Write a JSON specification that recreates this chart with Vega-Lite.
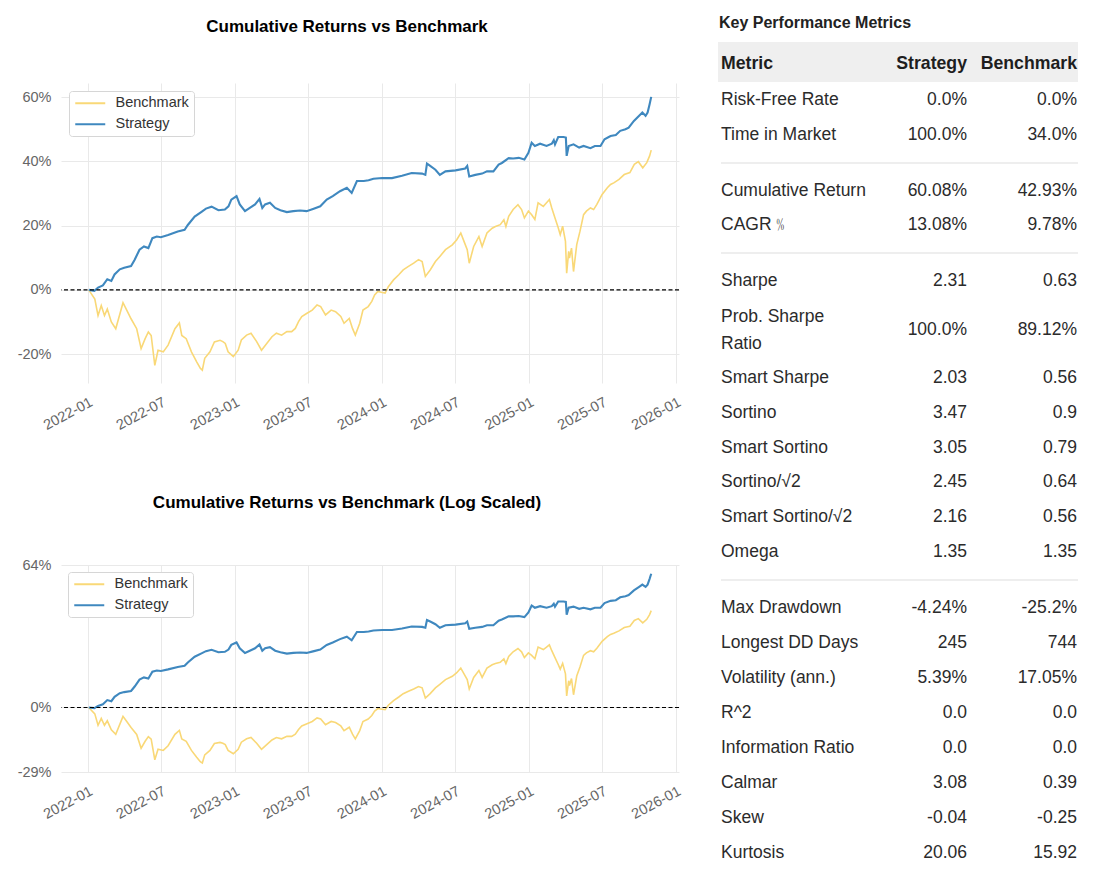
{
  "$schema": "https://vega.github.io/schema/vega-lite/v6.json",
  "padding": {"left": 17, "top": 15, "right": 0, "bottom": 0},
  "background": "#ffffff",
  "config": {
    "view": {"stroke": null},
    "font": "Liberation Sans",
    "axis": {"labelFont": "Liberation Sans", "labelFontSize": 14.5, "labelColor": "#666666", "gridColor": "#e9e9e9", "gridWidth": 1, "ticks": false, "domain": false, "title": null},
    "legend": {"labelFont": "Liberation Sans"}
  },
  "datasets": {
    "strategy": [
      {"date": "2022-01-03", "value": 0}, {"date": "2022-01-17", "value": -0.3}, {"date": "2022-01-26", "value": 0.7}, {"date": "2022-02-07", "value": 1.4},
      {"date": "2022-02-18", "value": 3.3}, {"date": "2022-02-28", "value": 2.8}, {"date": "2022-03-08", "value": 4.8}, {"date": "2022-03-21", "value": 6.4},
      {"date": "2022-04-01", "value": 6.9}, {"date": "2022-04-18", "value": 7.4}, {"date": "2022-04-27", "value": 9.4}, {"date": "2022-05-09", "value": 12.5},
      {"date": "2022-05-20", "value": 13.5}, {"date": "2022-05-31", "value": 13.0}, {"date": "2022-06-10", "value": 16.1}, {"date": "2022-06-21", "value": 16.6},
      {"date": "2022-07-01", "value": 16.4}, {"date": "2022-07-19", "value": 17.1}, {"date": "2022-08-12", "value": 18.2}, {"date": "2022-08-29", "value": 18.7},
      {"date": "2022-09-06", "value": 20.2}, {"date": "2022-09-23", "value": 22.8}, {"date": "2022-10-10", "value": 24.3}, {"date": "2022-10-21", "value": 25.3},
      {"date": "2022-11-04", "value": 25.9}, {"date": "2022-11-21", "value": 24.8}, {"date": "2022-12-07", "value": 25.0}, {"date": "2022-12-16", "value": 26.0},
      {"date": "2022-12-23", "value": 28.1}, {"date": "2023-01-05", "value": 29.2}, {"date": "2023-01-13", "value": 26.6}, {"date": "2023-01-26", "value": 24.5},
      {"date": "2023-02-07", "value": 25.5}, {"date": "2023-02-20", "value": 26.6}, {"date": "2023-03-03", "value": 28.3}, {"date": "2023-03-10", "value": 25.5},
      {"date": "2023-03-17", "value": 26.6}, {"date": "2023-03-29", "value": 27.1}, {"date": "2023-04-11", "value": 25.5}, {"date": "2023-04-24", "value": 24.8},
      {"date": "2023-05-10", "value": 24.2}, {"date": "2023-05-26", "value": 24.5}, {"date": "2023-06-12", "value": 24.7}, {"date": "2023-06-28", "value": 24.5},
      {"date": "2023-07-14", "value": 25.2}, {"date": "2023-08-01", "value": 26.0}, {"date": "2023-08-17", "value": 28.1}, {"date": "2023-09-01", "value": 29.2},
      {"date": "2023-09-19", "value": 30.7}, {"date": "2023-10-06", "value": 31.8}, {"date": "2023-10-18", "value": 30.2}, {"date": "2023-10-31", "value": 33.9},
      {"date": "2023-11-17", "value": 33.9}, {"date": "2023-11-29", "value": 34.1}, {"date": "2023-12-11", "value": 34.6}, {"date": "2024-01-02", "value": 34.8},
      {"date": "2024-01-26", "value": 34.8}, {"date": "2024-02-20", "value": 35.5}, {"date": "2024-03-15", "value": 36.4}, {"date": "2024-04-10", "value": 36.2},
      {"date": "2024-04-18", "value": 35.8}, {"date": "2024-04-22", "value": 39.3}, {"date": "2024-04-30", "value": 38.6}, {"date": "2024-05-13", "value": 37.4},
      {"date": "2024-05-24", "value": 35.8}, {"date": "2024-06-07", "value": 36.9}, {"date": "2024-07-02", "value": 37.2}, {"date": "2024-07-26", "value": 37.8},
      {"date": "2024-07-31", "value": 38.6}, {"date": "2024-08-05", "value": 35.3}, {"date": "2024-08-20", "value": 35.8}, {"date": "2024-09-06", "value": 36.2},
      {"date": "2024-09-18", "value": 36.9}, {"date": "2024-10-04", "value": 36.9}, {"date": "2024-10-17", "value": 39.0}, {"date": "2024-10-25", "value": 39.5},
      {"date": "2024-11-11", "value": 41.0}, {"date": "2024-11-22", "value": 40.9}, {"date": "2024-12-06", "value": 41.1}, {"date": "2024-12-20", "value": 40.6},
      {"date": "2024-12-30", "value": 42.7}, {"date": "2025-01-07", "value": 45.8}, {"date": "2025-01-15", "value": 44.8}, {"date": "2025-01-28", "value": 45.5},
      {"date": "2025-02-13", "value": 44.8}, {"date": "2025-02-26", "value": 45.5}, {"date": "2025-03-03", "value": 46.6}, {"date": "2025-03-06", "value": 45.3},
      {"date": "2025-03-14", "value": 47.6}, {"date": "2025-03-27", "value": 47.6}, {"date": "2025-04-02", "value": 47.4}, {"date": "2025-04-04", "value": 41.7},
      {"date": "2025-04-09", "value": 44.8}, {"date": "2025-04-21", "value": 45.3}, {"date": "2025-05-05", "value": 44.3}, {"date": "2025-05-16", "value": 44.8},
      {"date": "2025-06-02", "value": 44.1}, {"date": "2025-06-13", "value": 44.8}, {"date": "2025-06-27", "value": 44.8}, {"date": "2025-07-07", "value": 46.9},
      {"date": "2025-07-22", "value": 47.9}, {"date": "2025-08-04", "value": 48.2}, {"date": "2025-08-15", "value": 49.5}, {"date": "2025-08-28", "value": 50.0},
      {"date": "2025-09-05", "value": 50.5}, {"date": "2025-09-18", "value": 52.6}, {"date": "2025-10-01", "value": 54.2}, {"date": "2025-10-09", "value": 55.2},
      {"date": "2025-10-17", "value": 54.2}, {"date": "2025-10-22", "value": 55.2}, {"date": "2025-10-27", "value": 57.8}, {"date": "2025-10-31", "value": 60.08}
    ],
    "benchmark": [
      {"date": "2022-01-03", "value": 0}, {"date": "2022-01-07", "value": -0.8}, {"date": "2022-01-18", "value": -2.9}, {"date": "2022-01-26", "value": -8.0},
      {"date": "2022-02-03", "value": -4.9}, {"date": "2022-02-11", "value": -8.0}, {"date": "2022-02-18", "value": -6.0}, {"date": "2022-02-28", "value": -10.0},
      {"date": "2022-03-11", "value": -12.1}, {"date": "2022-03-29", "value": -4.0}, {"date": "2022-04-06", "value": -6.0}, {"date": "2022-04-18", "value": -9.0},
      {"date": "2022-05-02", "value": -12.1}, {"date": "2022-05-13", "value": -18.3}, {"date": "2022-05-23", "value": -15.2}, {"date": "2022-05-31", "value": -13.1},
      {"date": "2022-06-07", "value": -14.2}, {"date": "2022-06-16", "value": -23.5}, {"date": "2022-06-24", "value": -18.8}, {"date": "2022-07-07", "value": -19.3},
      {"date": "2022-07-19", "value": -17.2}, {"date": "2022-08-05", "value": -12.1}, {"date": "2022-08-16", "value": -10.3}, {"date": "2022-08-22", "value": -14.2},
      {"date": "2022-09-02", "value": -15.2}, {"date": "2022-09-15", "value": -19.3}, {"date": "2022-09-28", "value": -22.4}, {"date": "2022-10-07", "value": -24.4},
      {"date": "2022-10-12", "value": -25.0}, {"date": "2022-10-18", "value": -21.3}, {"date": "2022-10-31", "value": -19.3}, {"date": "2022-11-11", "value": -16.2},
      {"date": "2022-11-25", "value": -15.7}, {"date": "2022-12-02", "value": -16.1}, {"date": "2022-12-08", "value": -16.7}, {"date": "2022-12-15", "value": -19.3},
      {"date": "2022-12-28", "value": -20.8}, {"date": "2023-01-09", "value": -18.8}, {"date": "2023-01-17", "value": -15.6}, {"date": "2023-01-30", "value": -14.1},
      {"date": "2023-02-10", "value": -13.5}, {"date": "2023-02-24", "value": -16.1}, {"date": "2023-03-08", "value": -18.8}, {"date": "2023-03-21", "value": -16.7},
      {"date": "2023-04-03", "value": -14.6}, {"date": "2023-04-14", "value": -13.5}, {"date": "2023-04-27", "value": -14.1}, {"date": "2023-05-10", "value": -13.0},
      {"date": "2023-05-22", "value": -13.0}, {"date": "2023-05-31", "value": -12.0}, {"date": "2023-06-08", "value": -9.9}, {"date": "2023-06-16", "value": -8.3},
      {"date": "2023-06-29", "value": -7.3}, {"date": "2023-07-12", "value": -6.3}, {"date": "2023-07-24", "value": -4.7}, {"date": "2023-08-02", "value": -5.2},
      {"date": "2023-08-14", "value": -7.8}, {"date": "2023-08-28", "value": -6.3}, {"date": "2023-09-08", "value": -6.8}, {"date": "2023-09-21", "value": -8.3},
      {"date": "2023-09-29", "value": -10.4}, {"date": "2023-10-12", "value": -8.9}, {"date": "2023-10-20", "value": -12.0}, {"date": "2023-10-27", "value": -14.1},
      {"date": "2023-11-07", "value": -10.4}, {"date": "2023-11-15", "value": -6.3}, {"date": "2023-11-28", "value": -5.2}, {"date": "2023-12-07", "value": -3.6},
      {"date": "2023-12-14", "value": -1.6}, {"date": "2023-12-22", "value": -0.5}, {"date": "2024-01-02", "value": -0.8}, {"date": "2024-01-09", "value": -1.0},
      {"date": "2024-01-17", "value": 1.0}, {"date": "2024-01-30", "value": 3.1}, {"date": "2024-02-12", "value": 4.7}, {"date": "2024-02-23", "value": 6.2},
      {"date": "2024-03-07", "value": 7.3}, {"date": "2024-03-20", "value": 8.3}, {"date": "2024-04-01", "value": 9.4}, {"date": "2024-04-10", "value": 8.8},
      {"date": "2024-04-18", "value": 4.2}, {"date": "2024-04-30", "value": 6.2}, {"date": "2024-05-13", "value": 8.8}, {"date": "2024-05-24", "value": 10.4},
      {"date": "2024-06-07", "value": 12.5}, {"date": "2024-06-24", "value": 14.0}, {"date": "2024-07-05", "value": 15.6}, {"date": "2024-07-15", "value": 17.7},
      {"date": "2024-07-23", "value": 15.1}, {"date": "2024-07-31", "value": 12.5}, {"date": "2024-08-05", "value": 8.3}, {"date": "2024-08-16", "value": 13.5},
      {"date": "2024-08-29", "value": 16.6}, {"date": "2024-09-06", "value": 13.5}, {"date": "2024-09-18", "value": 17.7}, {"date": "2024-10-01", "value": 19.2},
      {"date": "2024-10-09", "value": 19.7}, {"date": "2024-10-21", "value": 20.3}, {"date": "2024-10-30", "value": 21.8}, {"date": "2024-11-04", "value": 19.7},
      {"date": "2024-11-11", "value": 22.9}, {"date": "2024-11-22", "value": 25.0}, {"date": "2024-12-04", "value": 26.5}, {"date": "2024-12-13", "value": 25.0},
      {"date": "2024-12-20", "value": 22.4}, {"date": "2024-12-30", "value": 24.5}, {"date": "2025-01-07", "value": 23.4}, {"date": "2025-01-15", "value": 21.9},
      {"date": "2025-01-23", "value": 27.1}, {"date": "2025-02-05", "value": 26.0}, {"date": "2025-02-13", "value": 27.1}, {"date": "2025-02-20", "value": 28.1},
      {"date": "2025-02-26", "value": 25.5}, {"date": "2025-03-06", "value": 22.4}, {"date": "2025-03-14", "value": 19.3}, {"date": "2025-03-19", "value": 17.2},
      {"date": "2025-03-25", "value": 19.8}, {"date": "2025-04-01", "value": 15.1}, {"date": "2025-04-04", "value": 5.2}, {"date": "2025-04-09", "value": 12.0},
      {"date": "2025-04-11", "value": 9.9}, {"date": "2025-04-16", "value": 13.0}, {"date": "2025-04-21", "value": 5.7}, {"date": "2025-04-29", "value": 14.1},
      {"date": "2025-05-07", "value": 18.2}, {"date": "2025-05-16", "value": 23.4}, {"date": "2025-05-23", "value": 24.5}, {"date": "2025-06-02", "value": 25.5},
      {"date": "2025-06-10", "value": 25.0}, {"date": "2025-06-18", "value": 26.6}, {"date": "2025-07-01", "value": 29.7}, {"date": "2025-07-14", "value": 31.8},
      {"date": "2025-07-22", "value": 32.8}, {"date": "2025-07-30", "value": 33.3}, {"date": "2025-08-12", "value": 34.4}, {"date": "2025-08-25", "value": 35.9},
      {"date": "2025-09-08", "value": 36.5}, {"date": "2025-09-19", "value": 39.1}, {"date": "2025-09-29", "value": 39.9}, {"date": "2025-10-10", "value": 38.0},
      {"date": "2025-10-20", "value": 39.6}, {"date": "2025-10-27", "value": 41.7}, {"date": "2025-10-31", "value": 43.5}
    ],
    "header": [{"row": 0, "metric": "Metric", "strategy": "Strategy", "benchmark": "Benchmark"}],
    "metrics": [
      {"row": 1, "metric": "Risk-Free Rate", "strategy": "0.0%", "benchmark": "0.0%"},
      {"row": 2, "metric": "Time in Market", "strategy": "100.0%", "benchmark": "34.0%"},
      {"row": 3, "metric": "Cumulative Return", "strategy": "60.08%", "benchmark": "42.93%"},
      {"row": 4, "metric": "CAGR﹪", "strategy": "13.08%", "benchmark": "9.78%"},
      {"row": 5, "metric": "Sharpe", "strategy": "2.31", "benchmark": "0.63"},
      {"row": 6, "metric": "Prob. Sharpe\nRatio", "strategy": "100.0%", "benchmark": "89.12%"},
      {"row": 7, "metric": "Smart Sharpe", "strategy": "2.03", "benchmark": "0.56"},
      {"row": 8, "metric": "Sortino", "strategy": "3.47", "benchmark": "0.9"},
      {"row": 9, "metric": "Smart Sortino", "strategy": "3.05", "benchmark": "0.79"},
      {"row": 10, "metric": "Sortino/√2", "strategy": "2.45", "benchmark": "0.64"},
      {"row": 11, "metric": "Smart Sortino/√2", "strategy": "2.16", "benchmark": "0.56"},
      {"row": 12, "metric": "Omega", "strategy": "1.35", "benchmark": "1.35"},
      {"row": 13, "metric": "Max Drawdown", "strategy": "-4.24%", "benchmark": "-25.2%"},
      {"row": 14, "metric": "Longest DD Days", "strategy": "245", "benchmark": "744"},
      {"row": 15, "metric": "Volatility (ann.)", "strategy": "5.39%", "benchmark": "17.05%"},
      {"row": 16, "metric": "R^2", "strategy": "0.0", "benchmark": "0.0"},
      {"row": 17, "metric": "Information Ratio", "strategy": "0.0", "benchmark": "0.0"},
      {"row": 18, "metric": "Calmar", "strategy": "3.08", "benchmark": "0.39"},
      {"row": 19, "metric": "Skew", "strategy": "-0.04", "benchmark": "-0.25"},
      {"row": 20, "metric": "Kurtosis", "strategy": "20.06", "benchmark": "15.92"}
    ],
    "separators": [{"boundary": 2.5}, {"boundary": 4.5}, {"boundary": 12.5}],
    "zero": [{"zero": 0}]
  },
  "hconcat": [
    {
      "vconcat": [
        {
          "width": 618, "height": 300,
          "title": {"text": "Cumulative Returns vs Benchmark", "fontSize": 17, "fontWeight": "bold", "color": "#000000", "anchor": "middle", "dx": -23, "offset": 47},
          "layer": [
            {
              "data": {"name": "benchmark"},
              "mark": {"type": "line", "strokeWidth": 1.6},
              "encoding": {
                "x": {"field": "date", "type": "temporal", "scale": {"domain": ["2021-10-26", "2026-01-08"], "nice": false},
                      "axis": {"format": "%Y-%m", "tickCount": {"interval": "month", "step": 6}, "labelAngle": -28, "labelAlign": "right", "labelBaseline": "top", "labelPadding": 12, "labelOverlap": false, "labelFlush": false, "labelBound": false, "grid": true}},
                "y": {"field": "value", "type": "quantitative", "scale": {"domain": [-29, 64.4], "nice": false, "zero": false},
                      "axis": {"values": [-20, 0, 20, 40, 60], "labelExpr": "datum.value + '%'", "labelPadding": 10, "grid": true}},
                "color": {"datum": "Benchmark", "type": "nominal",
                          "scale": {"domain": ["Benchmark", "Strategy"], "range": ["#f9d877", "#3f88bf"]},
                          "legend": {"orient": "top-left", "offset": 8, "title": null, "padding": 5, "symbolType": "M-3,0H3", "symbolSize": 100, "symbolStrokeWidth": 2, "symbolOffset": 9, "labelOffset": 18, "labelFontSize": 14.5, "labelColor": "#333333", "strokeColor": "#d6d6d6", "fillColor": "#ffffff", "cornerRadius": 3, "rowPadding": 6}}
              }
            },
            {
              "data": {"name": "strategy"},
              "mark": {"type": "line", "strokeWidth": 2.1},
              "encoding": {
                "x": {"field": "date", "type": "temporal"},
                "y": {"field": "value", "type": "quantitative"},
                "color": {"datum": "Strategy", "type": "nominal"}
              }
            },
            {
              "data": {"name": "zero"},
              "mark": {"type": "rule", "color": "#000000", "strokeWidth": 1.1, "strokeDash": [4, 2.5]},
              "encoding": {"y": {"field": "zero", "type": "quantitative"}}
            }
          ]
        },
        {
          "width": 618, "height": 207,
          "title": {"text": "Cumulative Returns vs Benchmark (Log Scaled)", "fontSize": 17, "fontWeight": "bold", "color": "#000000", "anchor": "middle", "dx": -23, "offset": 45},
          "layer": [
            {
              "data": {"name": "benchmark"},
              "mark": {"type": "line", "strokeWidth": 1.6},
              "encoding": {
                "x": {"field": "date", "type": "temporal", "scale": {"domain": ["2021-10-26", "2026-01-08"], "nice": false},
                      "axis": {"format": "%Y-%m", "tickCount": {"interval": "month", "step": 6}, "labelAngle": -28, "labelAlign": "right", "labelBaseline": "top", "labelPadding": 12, "labelOverlap": false, "labelFlush": false, "labelBound": false, "grid": true}},
                "y": {"field": "value", "type": "quantitative", "scale": {"domain": [-29, 64], "nice": false, "zero": false},
                      "axis": {"values": [-29, 0, 64], "labelExpr": "datum.value + '%'", "labelPadding": 10, "grid": true}},
                "color": {"datum": "Benchmark", "type": "nominal",
                          "scale": {"domain": ["Benchmark", "Strategy"], "range": ["#f9d877", "#3f88bf"]},
                          "legend": {"orient": "top-left", "offset": 7, "title": null, "padding": 5, "symbolType": "M-3,0H3", "symbolSize": 100, "symbolStrokeWidth": 2, "symbolOffset": 9, "labelOffset": 18, "labelFontSize": 14.5, "labelColor": "#333333", "strokeColor": "#d6d6d6", "fillColor": "#ffffff", "cornerRadius": 3, "rowPadding": 6}}
              }
            },
            {
              "data": {"name": "strategy"},
              "mark": {"type": "line", "strokeWidth": 2.1},
              "encoding": {
                "x": {"field": "date", "type": "temporal"},
                "y": {"field": "value", "type": "quantitative"},
                "color": {"datum": "Strategy", "type": "nominal"}
              }
            },
            {
              "data": {"name": "zero"},
              "mark": {"type": "rule", "color": "#000000", "strokeWidth": 1.1, "strokeDash": [4, 2.5]},
              "encoding": {"y": {"field": "zero", "type": "quantitative"}}
            }
          ]
        }
      ],
      "spacing": 62,
      "resolve": {"scale": {"color": "independent", "x": "independent", "y": "independent"}, "legend": {"color": "independent"}}
    },
    {
      "width": 360, "height": 780,
      "title": {"text": "Key Performance Metrics", "anchor": "start", "fontSize": 16, "fontWeight": "bold", "color": "#222222", "offset": 11, "dx": 1},
      "layer": [
        {
          "data": {"name": "header"},
          "mark": {"type": "rect", "fill": "#efefef"},
          "encoding": {
            "x": {"datum": 0, "type": "quantitative", "scale": {"domain": [0, 360], "nice": false, "zero": false}, "axis": null},
            "x2": {"datum": 360},
            "y": {"datum": -0.6, "type": "quantitative",
                  "scale": {"domain": [-0.6, 0, 1, 2, 3, 4, 5, 6, 7, 12, 13, 20], "range": [-41, -19, 17, 52, 108, 142, 198, 247, 295, 469, 525, 770], "nice": false, "zero": false},
                  "axis": null},
            "y2": {"datum": 0.5}
          }
        },
        {
          "data": {"name": "separators"},
          "mark": {"type": "rule", "stroke": "#dddddd", "strokeWidth": 1},
          "encoding": {
            "x": {"datum": 3, "type": "quantitative"},
            "x2": {"datum": 360},
            "y": {"field": "boundary", "type": "quantitative"}
          }
        },
        {
          "data": {"name": "header"},
          "mark": {"type": "text", "align": "left", "baseline": "middle", "fontSize": 17.7, "fontWeight": "bold", "color": "#1e1e1e"},
          "encoding": {"x": {"datum": 3, "type": "quantitative"}, "y": {"field": "row", "type": "quantitative"}, "text": {"field": "metric"}}
        },
        {
          "data": {"name": "header"},
          "mark": {"type": "text", "align": "right", "baseline": "middle", "fontSize": 17.7, "fontWeight": "bold", "color": "#1e1e1e"},
          "encoding": {"x": {"datum": 249, "type": "quantitative"}, "y": {"field": "row", "type": "quantitative"}, "text": {"field": "strategy"}}
        },
        {
          "data": {"name": "header"},
          "mark": {"type": "text", "align": "right", "baseline": "middle", "fontSize": 17.7, "fontWeight": "bold", "color": "#1e1e1e"},
          "encoding": {"x": {"datum": 359, "type": "quantitative"}, "y": {"field": "row", "type": "quantitative"}, "text": {"field": "benchmark"}}
        },
        {
          "data": {"name": "metrics"},
          "transform": [{"filter": "indexof(datum.metric, '\\n') < 0"}],
          "mark": {"type": "text", "align": "left", "baseline": "middle", "fontSize": 17.5, "color": "#2b2b2b"},
          "encoding": {"x": {"datum": 3, "type": "quantitative"}, "y": {"field": "row", "type": "quantitative"}, "text": {"field": "metric"}}
        },
        {
          "data": {"name": "metrics"},
          "transform": [{"filter": "indexof(datum.metric, '\\n') >= 0"}],
          "mark": {"type": "text", "align": "left", "baseline": "middle", "fontSize": 17.5, "color": "#2b2b2b", "lineBreak": "\n", "lineHeight": 27, "dy": -13.5},
          "encoding": {"x": {"datum": 3, "type": "quantitative"}, "y": {"field": "row", "type": "quantitative"}, "text": {"field": "metric"}}
        },
        {
          "data": {"name": "metrics"},
          "mark": {"type": "text", "align": "right", "baseline": "middle", "fontSize": 17.5, "color": "#2b2b2b"},
          "encoding": {"x": {"datum": 249, "type": "quantitative"}, "y": {"field": "row", "type": "quantitative"}, "text": {"field": "strategy"}}
        },
        {
          "data": {"name": "metrics"},
          "mark": {"type": "text", "align": "right", "baseline": "middle", "fontSize": 17.5, "color": "#2b2b2b"},
          "encoding": {"x": {"datum": 359, "type": "quantitative"}, "y": {"field": "row", "type": "quantitative"}, "text": {"field": "benchmark"}}
        }
      ]
    }
  ],
  "spacing": 35
}
